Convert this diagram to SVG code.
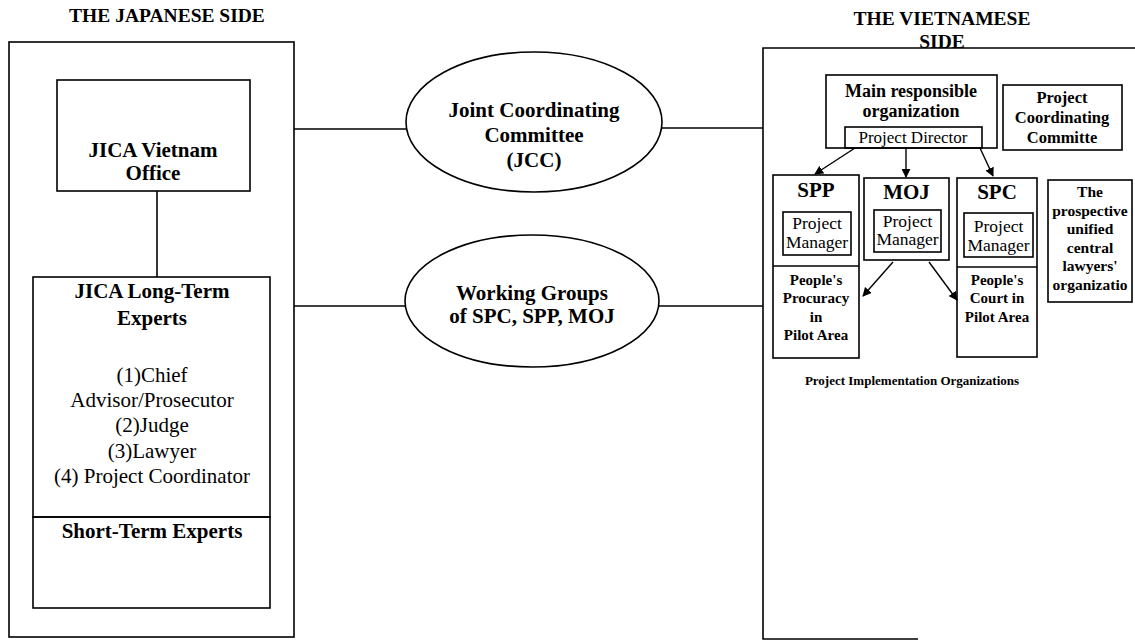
<svg xmlns="http://www.w3.org/2000/svg" width="1135" height="641" viewBox="0 0 1135 641">
<style>
.b{fill:none;stroke:#000;stroke-width:1.6}
.t{font-family:"Liberation Serif","Times New Roman",serif;fill:#000;text-anchor:middle}
.bd{font-weight:bold}
.pm{font-size:17.5px}
.ln{stroke:#000;stroke-width:1.6;fill:none}
.ar{stroke:#000;stroke-width:1.4;fill:none;marker-end:url(#ah)}
</style>
<defs>
<marker id="ah" viewBox="0 0 10 10" refX="9" refY="5" markerWidth="9" markerHeight="9" markerUnits="userSpaceOnUse" orient="auto">
<path d="M0,0 L10,5 L0,10 z" fill="#000"/>
</marker>
</defs>
<rect width="1135" height="641" fill="#fff"/>

<g id="title-japanese"><text class="t bd" x="167" y="22" font-size="19.5">THE JAPANESE SIDE</text></g>
<g id="title-vietnamese">
<text class="t bd" x="942" y="25" font-size="19.5">THE VIETNAMESE</text>
<text class="t bd" x="942" y="48" font-size="19.5">SIDE</text>
</g>

<g id="japanese-side"><rect class="b" x="9" y="42" width="285" height="595"/></g>
<g id="vietnamese-side"><path class="b" d="M1140,48 H763 V639 H918"/></g>

<g id="jica-office">
<rect class="b" x="57" y="80" width="193" height="111"/>
<text class="t bd" x="153" y="157" font-size="21">JICA Vietnam</text>
<text class="t bd" x="153" y="180" font-size="21">Office</text>
</g>

<g id="long-term-experts">
<rect class="b" x="33" y="277" width="237" height="240"/>
<text class="t bd" x="152" y="298" font-size="21">JICA Long-Term</text>
<text class="t bd" x="152" y="325" font-size="21">Experts</text>
<text class="t" x="152" y="382" font-size="21">(1)Chief</text>
<text class="t" x="152" y="407" font-size="21">Advisor/Prosecutor</text>
<text class="t" x="152" y="432" font-size="21">(2)Judge</text>
<text class="t" x="152" y="458" font-size="21">(3)Lawyer</text>
<text class="t" x="152" y="483" font-size="21">(4) Project Coordinator</text>
</g>
<g id="short-term-experts">
<rect class="b" x="33" y="517" width="237" height="91"/>
<text class="t bd" x="152" y="538" font-size="21">Short-Term Experts</text>
</g>

<g id="jcc">
<ellipse class="b" cx="534" cy="122" rx="128" ry="70"/>
<text class="t bd" x="534" y="117" font-size="21">Joint Coordinating</text>
<text class="t bd" x="534" y="142" font-size="21">Committee</text>
<text class="t bd" x="534" y="167" font-size="21">(JCC)</text>
</g>
<g id="working-groups">
<ellipse class="b" cx="532" cy="301" rx="127" ry="66"/>
<text class="t bd" x="532" y="300" font-size="21">Working Groups</text>
<text class="t bd" x="532" y="323" font-size="21">of SPC, SPP, MOJ</text>
</g>

<g id="main-org">
<rect class="b" x="826" y="75" width="171" height="73"/>
<text class="t bd" x="911" y="97" font-size="18">Main responsible</text>
<text class="t bd" x="911" y="117" font-size="18">organization</text>
</g>
<g id="project-director">
<rect class="b" x="845" y="127" width="137" height="21"/>
<text class="t" x="913" y="143" font-size="17">Project Director</text>
</g>
<g id="pcc">
<rect class="b" x="1003" y="85" width="119" height="65"/>
<text class="t bd" x="1062" y="103" font-size="16.5">Project</text>
<text class="t bd" x="1062" y="123" font-size="16.5">Coordinating</text>
<text class="t bd" x="1062" y="143" font-size="16.5">Committe</text>
</g>

<g id="spp">
<rect class="b" x="773" y="175" width="86" height="183"/>
<line class="ln" x1="773" y1="266" x2="859" y2="266"/>
<text class="t bd" x="816" y="197" font-size="21">SPP</text>
<rect class="b" x="783" y="212" width="68" height="43"/>
<text class="t pm" x="817" y="229">Project</text>
<text class="t pm" x="817" y="248">Manager</text>
<text class="t bd" x="816" y="285" font-size="15">People's</text>
<text class="t bd" x="816" y="303" font-size="15">Procuracy</text>
<text class="t bd" x="816" y="322" font-size="15">in</text>
<text class="t bd" x="816" y="340" font-size="15">Pilot Area</text>
</g>
<g id="moj">
<rect class="b" x="864" y="178" width="85" height="82"/>
<text class="t bd" x="906.5" y="199" font-size="21">MOJ</text>
<rect class="b" x="874" y="210" width="67" height="42"/>
<text class="t pm" x="907.5" y="227">Project</text>
<text class="t pm" x="907.5" y="245">Manager</text>
</g>
<g id="spc">
<rect class="b" x="957" y="178" width="80" height="179"/>
<line class="ln" x1="957" y1="267" x2="1037" y2="267"/>
<text class="t bd" x="997" y="199" font-size="21">SPC</text>
<rect class="b" x="964" y="213" width="69" height="44"/>
<text class="t pm" x="998.5" y="232">Project</text>
<text class="t pm" x="998.5" y="251">Manager</text>
<text class="t bd" x="997" y="285" font-size="15">People's</text>
<text class="t bd" x="997" y="303" font-size="15">Court in</text>
<text class="t bd" x="997" y="322" font-size="15">Pilot Area</text>
</g>
<g id="lawyers-org">
<rect class="b" x="1048" y="180" width="84" height="122"/>
<text class="t bd" x="1090" y="197" font-size="15.5">The</text>
<text class="t bd" x="1090" y="215.5" font-size="15.5">prospective</text>
<text class="t bd" x="1090" y="234" font-size="15.5">unified</text>
<text class="t bd" x="1090" y="252.5" font-size="15.5">central</text>
<text class="t bd" x="1090" y="271" font-size="15.5">lawyers'</text>
<text class="t bd" x="1090" y="289.5" font-size="15.5">organizatio</text>
</g>
<g id="pio-label"><text class="t bd" x="912" y="385" font-size="13">Project Implementation Organizations</text></g>

<g id="connectors">
<line class="ln" x1="157" y1="191" x2="157" y2="277"/>
<line class="ln" x1="294" y1="129" x2="406" y2="129"/>
<line class="ln" x1="662" y1="128" x2="763" y2="128"/>
<line class="ln" x1="294" y1="306" x2="405" y2="306"/>
<line class="ln" x1="659" y1="306" x2="763" y2="306"/>
<line class="ar" x1="855" y1="148" x2="815" y2="174"/>
<line class="ar" x1="906" y1="148" x2="906" y2="177"/>
<line class="ar" x1="980" y1="148" x2="993" y2="176"/>
<line class="ar" x1="893" y1="262" x2="863" y2="296"/>
<line class="ar" x1="929" y1="262" x2="957" y2="300"/>
</g>
</svg>
